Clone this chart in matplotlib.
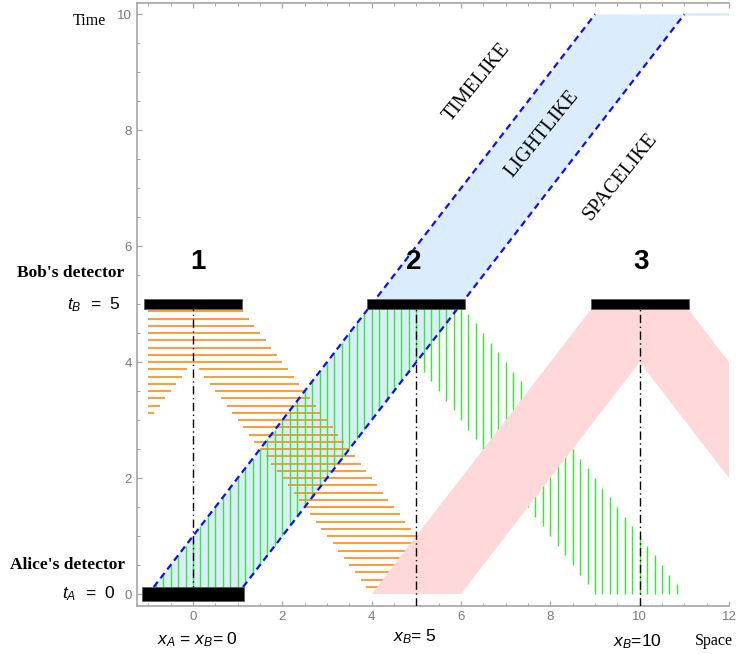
import numpy as np
import matplotlib
matplotlib.use("Agg")
import matplotlib.pyplot as plt
from matplotlib.patches import Polygon, Rectangle

plt.rcParams['font.family'] = ['Liberation Sans', 'DejaVu Sans']
plt.rcParams['mathtext.fontset'] = 'custom'
plt.rcParams['mathtext.rm'] = 'Liberation Sans'
plt.rcParams['mathtext.it'] = 'Liberation Sans:italic'

# detector geometry (space, time)
alice_x = 0
alice_t = 0
bob_x = [0, 5, 10]
bob_t = 5
bar_half = 1.1
cone_half = 1.0          # half-width of the light band / past cones
region_labels = ["1", "2", "3"]
region_label_x = [0.1, 4.95, 10.03]
region_label_t = 5.73

# spacing of the hatch lines
orange_dt = 1 / 8
green_dx = 1 / 6

x_ticks = [0, 2, 4, 6, 8, 10, 12]
t_ticks = [0, 2, 4, 6, 8, 10]
x_min, x_max = -1.254, 12.0
t_min, t_max = -0.207, 10.19

ORANGE = '#ff8a10'
GREEN = '#2ef02e'
BLUE_FILL = '#dbedfc'
PINK = '#ffd8d9'
GRAY = '#a6a6a6'

fig = plt.figure(figsize=(7.36, 6.54), dpi=100)
ax = fig.add_axes([137 / 736, 48 / 654, (729 - 137) / 736, 602.7 / 654])
ax.set_xlim(x_min, x_max)
ax.set_ylim(t_min, t_max)

# light-like band through Alice's detector
t_top = 10
band = Polygon([(alice_x - cone_half, alice_t), (alice_x + cone_half, alice_t),
                (alice_x + cone_half + t_top, t_top), (alice_x - cone_half + t_top, t_top)],
               closed=True, facecolor=BLUE_FILL, edgecolor='none', zorder=1)
ax.add_patch(band)
ax.plot([alice_x + cone_half + t_top, x_max], [t_top, t_top], color=BLUE_FILL, lw=2, zorder=1)

# orange horizontal hatching: past cone of detector 1
x1 = bob_x[0]
for t in np.arange(orange_dt, bob_t, orange_dt):
    d = bob_t - t
    segs = []
    lo, hi = max(x1 - cone_half - d, x1 - cone_half), x1 + cone_half - d
    if hi > lo:
        segs.append([lo, hi])
    lo2, hi2 = x1 - cone_half + d, x1 + cone_half + d
    if segs and lo2 <= segs[-1][1]:
        segs[-1][1] = max(segs[-1][1], hi2)
    else:
        segs.append([lo2, hi2])
    for a, b in segs:
        ax.plot([a, b], [t, t], color=ORANGE, lw=1.2, zorder=2, solid_capstyle='butt')

# green vertical hatching: past cone of detector 2
x2 = bob_x[1]
for x in np.arange(-6, 67) * green_dx:
    pieces = []
    # down-left arm
    if x2 - cone_half - bob_t <= x <= x2 + cone_half:
        lo = max(x - (x2 + cone_half) + bob_t, 0)
        hi = min(x - (x2 - cone_half) + bob_t, bob_t)
        if hi > lo:
            pieces.append((lo, hi))
    # down-right arm
    if x2 - cone_half <= x <= x2 + cone_half + bob_t:
        lo = max((x2 - cone_half) + bob_t - x, 0)
        hi = min((x2 + cone_half) + bob_t - x, bob_t)
        if hi > lo:
            pieces.append((lo, hi))
    if not pieces:
        continue
    if len(pieces) == 2:
        pieces = [(min(pieces[0][0], pieces[1][0]), max(pieces[0][1], pieces[1][1]))]
    for lo, hi in pieces:
        ax.plot([x, x], [lo, hi], color=GREEN, lw=1.0, zorder=2.5, solid_capstyle='butt')

# pink past cone of detector 3, clipped at the right edge
x3 = bob_x[2]
cone3 = Polygon([(x3 - cone_half - bob_t, 0), (x3 - cone_half, bob_t), (x3 + cone_half, bob_t),
                 (x_max, bob_t - (x_max - x3 - cone_half)),
                 (x_max, bob_t - (x_max - x3 + cone_half)),
                 (x3, bob_t - cone_half),
                 (x3 + cone_half - bob_t, 0)],
                closed=True, facecolor=PINK, edgecolor='none', zorder=3)
ax.add_patch(cone3)

# light-like boundaries
t0 = 0.12
for off in (-cone_half, cone_half):
    ax.plot([alice_x + off + t0, alice_x + off + t_top], [t0, t_top], color='#1010ee',
            lw=1.6, ls=(0, (3, 2)), zorder=4)

# dash-dot guides
ax.plot([bob_x[0], bob_x[0]], [alice_t, bob_t], color='black', lw=1, ls=(0, (6, 2.5, 1, 2.5)), zorder=4)
for bx in bob_x[1:]:
    ax.plot([bx, bx], [t_min, bob_t], color='black', lw=1, ls=(0, (6, 2.5, 1, 2.5)), zorder=4)

# detectors
for bx in bob_x:
    ax.add_patch(Rectangle((bx - bar_half, bob_t - 0.085), 2 * bar_half, 0.17,
                           facecolor='black', edgecolor='#555555', lw=0.5, zorder=5))
ax.add_patch(Rectangle((alice_x - 1.15, alice_t - 0.12), 2.3, 0.245,
                       facecolor='black', edgecolor='#555555', lw=0.5, zorder=5))

for lab, lx in zip(region_labels, region_label_x):
    ax.text(lx, region_label_t, lab, ha='center', va='center', fontsize=20,
            fontweight='bold', zorder=6)

serif = 'Liberation Serif'
ax.text(6.36, 8.83, 'TIMELIKE', rotation=51, ha='center', va='center',
        rotation_mode='anchor', fontsize=14.5, family=serif)
ax.text(7.81, 7.93, 'LIGHTLIKE', rotation=51, ha='center', va='center',
        rotation_mode='anchor', fontsize=14.5, family=serif)
ax.text(9.58, 7.20, 'SPACELIKE', rotation=51, ha='center', va='center',
        rotation_mode='anchor', fontsize=14.5, family=serif)

# labels outside the frame
ax.text(-2.33, 9.88, 'Time', ha='center', va='center', fontsize=11.5, family=serif, clip_on=False)
ax.text(-1.545, 5.54, "Bob's detector", ha='right', va='center', fontsize=12.5,
        fontweight='bold', family=serif, clip_on=False)
ax.text(-1.52, 0.5, "Alice's detector", ha='right', va='center', fontsize=12.5,
        fontweight='bold', family=serif, clip_on=False)
ax.text(-1.61, 5.0, r'$t_B$  =  5', ha='right', va='center', fontsize=12.5, clip_on=False)
ax.text(-1.72, 0.0, r'$t_A$  =  0', ha='right', va='center', fontsize=12.5, clip_on=False)
ax.text(0.09, -0.79, r'$x_A$ = $x_B$= 0', ha='center', va='center', fontsize=12.5, clip_on=False)
ax.text(4.97, -0.74, r'$x_B$= 5', ha='center', va='center', fontsize=12.5, clip_on=False)
ax.text(9.94, -0.83, r'$x_B$=10', ha='center', va='center', fontsize=12.5, clip_on=False)
ax.text(11.66, -0.81, 'Space', ha='center', va='center', fontsize=11.5, family=serif, clip_on=False)

# frame and ticks
ax.spines['right'].set_visible(False)
for s in ('left', 'bottom', 'top'):
    ax.spines[s].set_color(GRAY)
    ax.spines[s].set_linewidth(1.2)
ax.set_xticks(x_ticks)
ax.set_yticks(t_ticks)
ax.set_xticks(np.arange(-1, 12.01, 0.5), minor=True)
ax.set_yticks(np.arange(0, 10.01, 0.5), minor=True)
ax.tick_params(which='both', direction='in', colors=GRAY, labelcolor='#7a7a7a',
               labelsize=9.5, top=True, right=False)
ax.tick_params(which='major', length=3.5, width=0.9)
ax.tick_params(which='minor', length=2, width=0.7)

fig.savefig('out.png', dpi=100)
